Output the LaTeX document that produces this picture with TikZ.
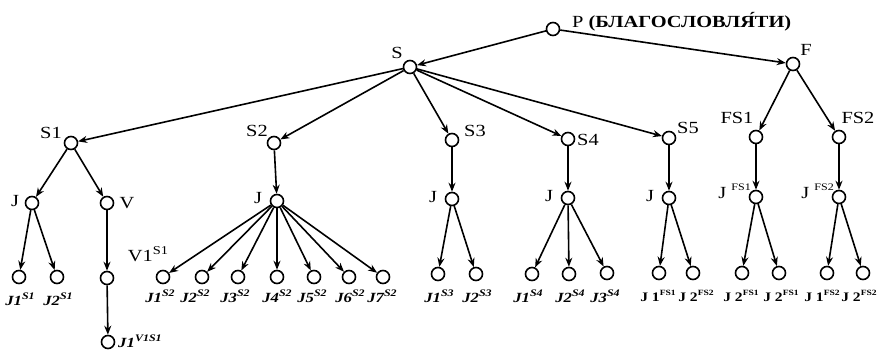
\documentclass[tikz,border=0pt]{standalone}
\usepackage{fontspec}
\setmainfont[FakeStretch=1.2]{Liberation Serif}
\usetikzlibrary{arrows.meta}
\newcommand{\upx}[1]{\raisebox{0.45em}{\fontsize{10}{10}\selectfont #1}}
\newcommand{\upy}[1]{\raisebox{0.5em}{\fontsize{8}{8}\selectfont\bfseries #1}}
\newcommand{\upz}[1]{\raisebox{0.4em}{\fontsize{12}{12}\selectfont #1}}
\begin{document}
\begin{tikzpicture}[x=1pt, y=-1pt,
  vert/.style={circle, draw, line width=1.6pt, minimum size=13pt, inner sep=0pt, fill=white},
  edge/.style={line width=1.6pt, -{Stealth[length=9pt, width=7pt]}},
  lbl/.style={font=\fontsize{17}{17}\selectfont, inner sep=0pt},
  leaf/.style={font=\fontsize{14}{14}\selectfont\bfseries\itshape, inner sep=0pt},
  leafup/.style={font=\fontsize{13}{13}\selectfont\bfseries, inner sep=0pt}]
\useasboundingbox[fill=white] (0,0) rectangle (878,351);

% vertices
\node[vert] (p)   at (553,29)  {};
\node[vert] (s)   at (410,67)  {};
\node[vert] (f)   at (793,64)  {};
\node[vert] (s1)  at (71,143)  {};
\node[vert] (s2)  at (274,143) {};
\node[vert] (s3)  at (452,140) {};
\node[vert] (s4)  at (568,139) {};
\node[vert] (s5)  at (669,138) {};
\node[vert] (fs1) at (756,137) {};
\node[vert] (fs2) at (839,137) {};

\node[vert] (j1)  at (32,203)  {};
\node[vert] (v)   at (107,203) {};
\node[vert] (j2)  at (277,201) {};
\node[vert] (j3)  at (452,199) {};
\node[vert] (j4)  at (568,198) {};
\node[vert] (j5)  at (669,198) {};
\node[vert] (j6)  at (756,197) {};
\node[vert] (j7)  at (839,197) {};

\node[vert] (a1) at (19,277)  {};
\node[vert] (a2) at (57,277)  {};
\node[vert] (vv) at (107,278) {};
\node[vert] (vw) at (108,342) {};

\foreach \i/\x in {1/163,2/202,3/238,4/277,5/314,6/349,7/383}
  \node[vert] (b\i) at (\x,277) {};

\node[vert] (c1) at (438,274) {};
\node[vert] (c2) at (476,274) {};
\node[vert] (d1) at (532,274) {};
\node[vert] (d2) at (569,274) {};
\node[vert] (d3) at (607,273) {};
\node[vert] (e1) at (659,273) {};
\node[vert] (e2) at (693,273) {};
\node[vert] (g1) at (742,273) {};
\node[vert] (g2) at (779,273) {};
\node[vert] (h1) at (827,273) {};
\node[vert] (h2) at (863,273) {};

% arcs
\draw[edge] (p) -- (s);
\draw[edge] (p) -- (f);
\foreach \t in {s1,s2,s3,s4,s5} \draw[edge] (s) -- (\t);
\draw[edge] (f) -- (fs1);
\draw[edge] (f) -- (fs2);
\draw[edge] (s1) -- (j1);
\draw[edge] (s1) -- (v);
\draw[edge] (s2) -- (j2);
\draw[edge] (s3) -- (j3);
\draw[edge] (s4) -- (j4);
\draw[edge] (s5) -- (j5);
\draw[edge] (fs1) -- (j6);
\draw[edge] (fs2) -- (j7);
\draw[edge] (j1) -- (a1);
\draw[edge] (j1) -- (a2);
\draw[edge] (v) -- (vv);
\draw[edge] (vv) -- (vw);
\foreach \i in {1,...,7} \draw[edge] (j2) -- (b\i);
\draw[edge] (j3) -- (c1);
\draw[edge] (j3) -- (c2);
\draw[edge] (j4) -- (d1);
\draw[edge] (j4) -- (d2);
\draw[edge] (j4) -- (d3);
\draw[edge] (j5) -- (e1);
\draw[edge] (j5) -- (e2);
\draw[edge] (j6) -- (g1);
\draw[edge] (j6) -- (g2);
\draw[edge] (j7) -- (h1);
\draw[edge] (j7) -- (h2);

% vertex names
\node[lbl, anchor=west] (p-l) at (572,22) {P \textbf{(БЛАГОСЛОВЛЯ́ТИ)}};
\node[lbl] (s-l)   at (397,53)  {S};
\node[lbl] (f-l)   at (806,50)  {F};
\node[lbl] (s1-l)  at (51,133)  {S1};
\node[lbl] (s2-l)  at (257,131) {S2};
\node[lbl] (s3-l)  at (475,131) {S3};
\node[lbl] (s4-l)  at (588,140) {S4};
\node[lbl] (s5-l)  at (688,128) {S5};
\node[lbl] (fs1-l) at (737,118) {FS1};
\node[lbl] (fs2-l) at (858,118) {FS2};

\node[lbl] (j1-l) at (15,201)  {J};
\node[lbl] (v-l)  at (127,203) {V};
\node[lbl] (j2-l) at (258,198) {J};
\node[lbl] (j3-l) at (433,197) {J};
\node[lbl] (j4-l) at (549,196) {J};
\node[lbl] (j5-l) at (650,196) {J};
\node[lbl, anchor=east] (j6-l) at (751,191) {J\ \upx{FS1}};
\node[lbl, anchor=east] (j7-l) at (834,191) {J\ \upx{FS2}};
\node[lbl] (vv-l) at (148,254) {V1\upz{S1}};

% leaf names
\node[leaf] (a1-l) at (20,299) {J1\upx{S1}};
\node[leaf] (a2-l) at (58,299) {J2\upx{S1}};
\node[leaf, anchor=west] (vw-l) at (118,341) {J1\upx{V1S1}};
\foreach \i/\x in {1/160,2/195,3/235,4/277,5/312,6/350,7/382}
  \node[leaf] (b\i-l) at (\x,296) {J\i\upx{S2}};
\node[leaf] (c1-l) at (439,296) {J1\upx{S3}};
\node[leaf] (c2-l) at (477,296) {J2\upx{S3}};
\node[leaf] (d1-l) at (528,296) {J1\upx{S4}};
\node[leaf] (d2-l) at (570,296) {J2\upx{S4}};
\node[leaf] (d3-l) at (605,296) {J3\upx{S4}};
\node[leafup] (e1-l) at (658,296) {J\ 1\upy{FS1}};
\node[leafup] (e2-l) at (696,296) {J\ 2\upy{FS2}};
\node[leafup] (g1-l) at (741,296) {J\ 2\upy{FS1}};
\node[leafup] (g2-l) at (781,296) {J\ 2\upy{FS1}};
\node[leafup] (h1-l) at (822,296) {J\ 1\upy{FS2}};
\node[leafup] (h2-l) at (859,296) {J\ 2\upy{FS2}};
\end{tikzpicture}
\end{document}
